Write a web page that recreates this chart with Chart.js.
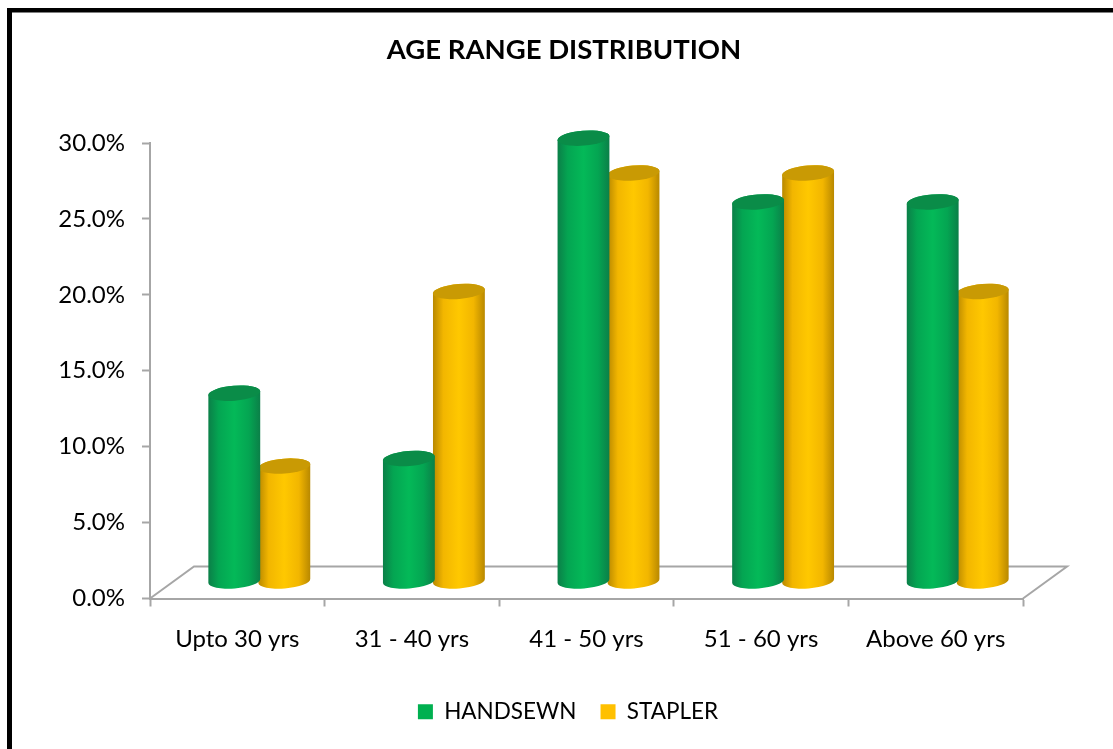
<!DOCTYPE html>
<html>
<head>
<meta charset="utf-8">
<title>Age Range Distribution</title>
<script src="https://cdn.jsdelivr.net/npm/chart.js@4"></script>
<style>
  html, body { margin: 0; padding: 0; background: #fff; }
  canvas { display: block; }
</style>
</head>
<body>
<canvas id="chart" width="1113" height="749"></canvas>
<script>
const ageRanges = ['Upto 30 yrs', '31 - 40 yrs', '41 - 50 yrs', '51 - 60 yrs', 'Above 60 yrs'];
const handsewn = [12.4, 8.1, 29.2, 25.0, 25.0];
const stapler = [7.6, 19.1, 26.9, 26.9, 19.1];
const valueTicks = [0, 5, 10, 15, 20, 25, 30];

const GREEN = '#00b050';
const AMBER = '#ffc000';
const AXIS_GREY = '#a6a6a6';
const FONT = 'Lato, Carlito, sans-serif';

// Shading for the round bars: edge, shoulder, centre, cap colours per base colour.
const shades = {
  [GREEN]: { edge: '#0b7f48', mid: '#04a552', centre: '#04b958', cap: '#0a8c48' },
  [AMBER]: { edge: '#b88800', mid: '#f2b600', centre: '#ffc800', cap: '#c99a04' }
};

// Oblique projection of the floor; bars stand half way back on it.
const FLOOR_DX = 44, FLOOR_DY = 32;
const BAR_DX = 22, BAR_DY = 17;
const CAP_RY = 7.5, TILT = -0.08;

class Cylinder extends Chart.BarElement {
  static id = 'cylinder';
  draw(ctx) {
    const { x, y, base, width } = this.getProps(['x', 'y', 'base', 'width']);
    const tone = shades[this.options.backgroundColor];
    const cx = x + BAR_DX, rx = width / 2;
    const top = y - BAR_DY, bottom = base - BAR_DY;
    const grad = ctx.createLinearGradient(cx - rx, 0, cx + rx, 0);
    grad.addColorStop(0, tone.edge);
    grad.addColorStop(0.2, tone.mid);
    grad.addColorStop(0.5, tone.centre);
    grad.addColorStop(0.78, tone.mid);
    grad.addColorStop(1, tone.edge);
    ctx.save();
    ctx.beginPath();
    ctx.ellipse(cx, bottom, rx, CAP_RY, TILT, 0, Math.PI);
    ctx.ellipse(cx, top, rx, CAP_RY, TILT, Math.PI, 2 * Math.PI);
    ctx.closePath();
    ctx.fillStyle = grad;
    ctx.fill();
    ctx.beginPath();
    ctx.ellipse(cx, top, rx, CAP_RY, TILT, 0, 2 * Math.PI);
    ctx.fillStyle = tone.cap;
    ctx.fill();
    ctx.restore();
  }
}

class CylinderController extends Chart.BarController {
  static id = 'cylinder';
  static defaults = { ...Chart.BarController.defaults, dataElementType: 'cylinder' };
  static overrides = Chart.BarController.overrides;
}

Chart.register(Cylinder, CylinderController);

// Centres a layout box on a given x without disturbing the plot area.
function centreBox(box, centre) {
  const half = (box.right - box.left) / 2;
  box.left = centre - half;
  box.right = centre + half;
}

const frameAndFloor = {
  id: 'frameAndFloor',
  afterLayout(chart) {
    centreBox(chart.titleBlock, 564);
    centreBox(chart.legend, 568);
  },
  beforeDraw(chart) {
    const { ctx } = chart;
    ctx.save();
    ctx.fillStyle = '#fff';
    ctx.fillRect(0, 0, chart.width, chart.height);
    ctx.fillStyle = '#000';
    ctx.fillRect(7, 8, chart.width - 7, 4.5);
    ctx.fillRect(7, 8, 5, chart.height - 8);
    ctx.restore();
  },
  beforeDatasetsDraw(chart) {
    const { ctx, scales } = chart;
    const y0 = scales.y.getPixelForValue(0);
    const left = scales.x.left, right = scales.x.right;
    ctx.save();
    ctx.strokeStyle = AXIS_GREY;
    ctx.lineWidth = 2;
    ctx.beginPath();
    ctx.moveTo(left, y0);
    ctx.lineTo(left + FLOOR_DX, y0 - FLOOR_DY);
    ctx.lineTo(right + FLOOR_DX, y0 - FLOOR_DY);
    ctx.lineTo(right, y0);
    ctx.stroke();
    ctx.restore();
  }
};

new Chart(document.getElementById('chart'), {
  type: 'cylinder',
  data: {
    labels: ageRanges,
    datasets: [
      { label: 'HANDSEWN', data: handsewn, backgroundColor: GREEN, clip: false },
      { label: 'STAPLER', data: stapler, backgroundColor: AMBER, clip: false }
    ]
  },
  plugins: [frameAndFloor],
  options: {
    responsive: false,
    animation: false,
    categoryPercentage: 0.573,
    barPercentage: 1.04,
    layout: { padding: { left: 0, right: 90, top: 0, bottom: 16 } },
    plugins: {
      title: {
        display: true,
        text: 'AGE RANGE DISTRIBUTION',
        color: '#000',
        font: { family: FONT, size: 27.5, weight: 'bold' },
        padding: { top: 34, bottom: 76 }
      },
      legend: {
        position: 'bottom',
        labels: {
          color: '#000',
          boxWidth: 15,
          boxHeight: 15,
          padding: 24,
          font: { family: FONT, size: 22.5 }
        }
      },
      tooltip: { enabled: false }
    },
    scales: {
      x: {
        type: 'category',
        offset: true,
        afterFit(scale) { scale.height = 78; },
        grid: {
          offset: true,
          drawOnChartArea: false,
          tickLength: 8,
          tickColor: AXIS_GREY,
          tickWidth: 2
        },
        border: { color: AXIS_GREY, width: 2 },
        ticks: {
          color: '#000',
          padding: 18,
          maxRotation: 0,
          font: { family: FONT, size: 24 }
        }
      },
      y: {
        type: 'linear',
        min: 0,
        max: 30,
        afterFit(scale) { scale.width = 150; },
        afterBuildTicks(scale) { scale.ticks = valueTicks.map(value => ({ value })); },
        grid: {
          drawOnChartArea: false,
          tickLength: 8,
          tickColor: AXIS_GREY,
          tickWidth: 2
        },
        border: { color: AXIS_GREY, width: 2 },
        ticks: {
          color: '#000',
          padding: 17,
          font: { family: FONT, size: 24 },
          callback: value => value.toFixed(1) + '%'
        }
      }
    }
  }
});
</script>
</body>
</html>
